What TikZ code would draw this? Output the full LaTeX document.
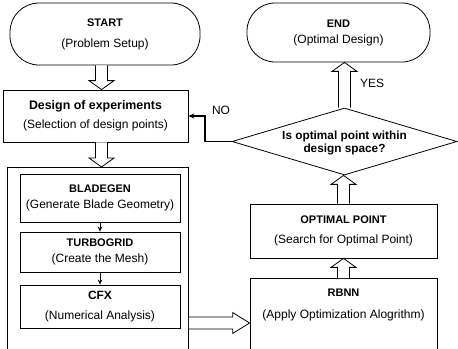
\documentclass[tikz,border=0pt]{standalone}
\usepackage{fontspec}
\setmainfont{Liberation Sans}
\usetikzlibrary{shapes.geometric,calc,arrows.meta}
\newcommand{\ttl}[1]{{\fontsize{11bp}{14bp}\selectfont\bfseries #1}}
\newcommand{\sbt}[1]{{\fontsize{12bp}{14bp}\selectfont #1}}
\newcommand{\hollowv}[2]{%
  \draw[hollow] let \p1=(#1), \p2=(#2), \n1={\y2-sign(\y2-\y1)*9pt} in
   ({\x1-6pt},\y1) -- ({\x1-6pt},\n1) -- ({\x1-12.5pt},\n1) -- (\x1,\y2)
   -- ({\x1+12.5pt},\n1) -- ({\x1+6pt},\n1) -- ({\x1+6pt},\y1);}
\newcommand{\hollowh}[2]{%
  \draw[hollow] let \p1=(#1), \p2=(#2) in
   (\x1,{\y1+6pt}) -- ({\x2-17pt},{\y1+6pt}) -- ({\x2-17pt},{\y1+10.5pt}) -- (\x2,\y1)
   -- ({\x2-17pt},{\y1-10.5pt}) -- ({\x2-17pt},{\y1-6pt}) -- (\x1,{\y1-6pt});}
\begin{document}
\begin{tikzpicture}[x=1bp,y=-1bp,
  box/.style={draw, line width=0.8bp, inner sep=0pt, align=center, fill=white},
  hollow/.style={draw, line width=0.8bp, fill=white, line join=miter},
  small/.style={-{Stealth[length=5bp,width=4.5bp]}, line width=1bp},
  lbl/.style={inner sep=0pt, font=\fontsize{12bp}{14bp}\selectfont}]
\useasboundingbox (0,0) rectangle (458,348);
\clip (0,0) rectangle (458,348);
\fill[white] (0,0) rectangle (458,348);

% left column
\node[box, rounded corners=29bp, minimum width=190bp, minimum height=62bp] (start) at (105,34)
  {\ttl{START}\\[9bp]\sbt{(Problem Setup)}};
\node[box, minimum width=185bp, minimum height=52bp] (design) at (95.5,116)
  {{\fontsize{12.4bp}{14bp}\selectfont\bfseries Design of experiments}\\[7bp]\sbt{(Selection of design points)}};
\node[box, anchor=north west, minimum width=181bp, minimum height=250bp] (outer) at (7,167) {};
\node[box, minimum width=160bp, minimum height=48bp] (blade) at (100,198)
  {\ttl{BLADEGEN}\\[4bp]\sbt{(Generate Blade Geometry)}};
\node[box, minimum width=160bp, minimum height=40bp] (turbo) at (100,252)
  {\ttl{TURBOGRID}\\[4bp]\sbt{(Create the Mesh)}};
\node[box, minimum width=160bp, minimum height=43bp] (cfx) at (100,306.5)
  {{\fontsize{12bp}{14bp}\selectfont\bfseries CFX}\\[8bp]\sbt{(Numerical Analysis)}};

\coordinate (ax) at (101.5,0);
\hollowv{start.south -| ax}{design.north -| ax}
\hollowv{design.south -| ax}{outer.north -| ax}
\draw[small] (blade.south) -- (turbo.north);
\draw[small] (turbo.south) -- (cfx.north);

% right column
\node[box, rounded corners=28bp, minimum width=183bp, minimum height=59bp] (end) at (338.5,32.5)
  {\ttl{END}\\[4bp]\sbt{(Optimal Design)}};
\node[draw, diamond, line width=0.8bp, inner sep=0pt, minimum width=225bp, minimum height=67bp, fill=white] (dia) at (344.5,141.5) {};
\node[inner sep=0pt, align=center, font=\fontsize{11.8bp}{12.5bp}\selectfont\bfseries] (diatext) at (344.5,143)
  {Is optimal point within\\design space?};
\node[box, minimum width=187bp, minimum height=54bp] (opt) at (343.5,231)
  {\ttl{OPTIMAL POINT}\\[8bp]\sbt{(Search for Optimal Point)}};
\node[box, anchor=north, minimum width=187bp, minimum height=120bp] (rbnn) at (343.5,278) {};
\node[inner sep=0pt, align=center] (rbnntext) at (343.5,304.5)
  {\ttl{RBNN}\\[10bp]\sbt{(Apply Optimization Alogrithm)}};

\hollowv{rbnn.north}{opt.south}
\hollowv{opt.north}{dia.south}
\hollowv{dia.north}{end.south -| dia.north}

\coordinate (hy) at (0,323);
\hollowh{outer.east |- hy}{rbnn.west |- hy}

\coordinate (nobend) at (205,0);
\draw[-{Stealth[length=6bp,width=5bp]}, line width=1.3bp] (dia.west) -- (dia.west -| nobend) |- (design.east);
\node[lbl] (no) at (221,110) {NO};
\node[lbl] (yes) at (372,83) {YES};
\end{tikzpicture}
\end{document}
